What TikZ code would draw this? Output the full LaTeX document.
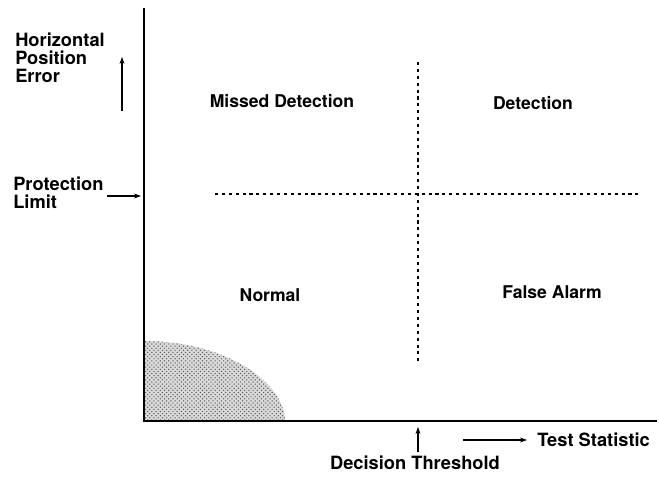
\documentclass[tikz,border=0pt]{standalone}
\usepackage{fontspec}
\setmainfont{TeX Gyre Heros}
\usetikzlibrary{patterns,arrows.meta}

\begin{document}
\begin{tikzpicture}[x=0.025cm,y=-0.025cm,
    axis/.style={line width=1.6pt},
    bound/.style={line width=1.7pt,dash pattern=on 2.2pt off 2.7pt},
    pointer/.style={line width=1pt,-{Stealth[length=5pt,width=3.5pt]}},
    region/.style={font=\fontsize{12.5}{14}\bfseries},
    label/.style={font=\fontsize{13}{12.8}\bfseries,align=left,anchor=west,inner sep=0pt}]
  \useasboundingbox (0,0) rectangle (659,479);
  % axes
  \coordinate (origin) at (144,421);
  \coordinate (ytop) at (144,8);
  \coordinate (xend) at (657,421);
  % nominal error cloud
  \fill[gray!30] (origin) -- (144,341) .. controls (228,341) and (285,384) .. (285,421) -- cycle;
  \fill[pattern=crosshatch dots,pattern color=gray!70!black]
    (origin) -- (144,341) .. controls (228,341) and (285,384) .. (285,421) -- cycle;
  \draw[axis] (ytop) -- (origin) -- (xend);
  % limit and threshold
  \coordinate (lim-w) at (215,194);
  \coordinate (lim-e) at (642,194);
  \coordinate (thr-n) at (418,62);
  \coordinate (thr-s) at (418,365);
  \draw[bound] (lim-w) -- (lim-e);
  \draw[bound] (thr-n) -- (thr-s);
  % regions
  \node[region] (missed) at (282,101) {Missed Detection};
  \node[region] (detect) at (533,103) {Detection};
  \node[region] (normal) at (270,295) {Normal};
  \node[region] (alarm) at (552,292) {False Alarm};
  % axis labels
  \node[label] (hpe) at (15,58) {Horizontal\\Position\\Error};
  \node[label] (pl) at (13,193) {Protection\\Limit};
  \node[label,anchor=north] (dt) at (415,456) {Decision Threshold};
  \node[label] (ts) at (537,440) {Test Statistic};
  \coordinate (hpe-s) at (122,111);
  \coordinate (hpe-n) at (122,57);
  \coordinate (pl-w) at (107,196);
  \coordinate (pl-e) at (141,196);
  \coordinate (dt-s) at (418,452);
  \coordinate (dt-n) at (418,427);
  \coordinate (ts-w) at (463,440);
  \coordinate (ts-e) at (527,440);
  \draw[pointer] (hpe-s) -- (hpe-n);
  \draw[pointer] (pl-w) -- (pl-e);
  \draw[pointer] (dt-s) -- (dt-n);
  \draw[pointer] (ts-w) -- (ts-e);
\end{tikzpicture}
\end{document}
